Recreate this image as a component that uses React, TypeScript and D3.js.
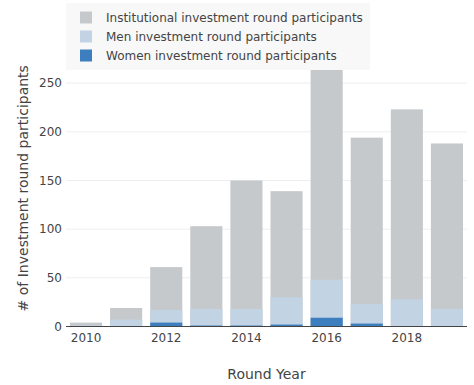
import React, { useEffect, useRef } from "react";
import * as d3 from "d3";

// values (overlaid bars, not stacked)
const years = [2010, 2011, 2012, 2013, 2014, 2015, 2016, 2017, 2018, 2019];
const institutional = [4, 19, 61, 103, 150, 139, 270, 194, 223, 188];
const men = [1, 7, 17, 18, 18, 30, 48, 23, 28, 18];
const women = [0, 0, 4, 1, 1, 2, 9, 3, 0, 0];
const seriesNames = [
  "Institutional investment round participants",
  "Men investment round participants",
  "Women investment round participants",
];
const seriesColors = ["#c5c9cc", "#c2d3e4", "#3d7ebf"];
const yTicks = [0, 50, 100, 150, 200, 250];
const xTicks = [2010, 2012, 2014, 2016, 2018];

const FONT = "Verdana, 'DejaVu Sans', sans-serif";

export default function App() {
  const ref = useRef<SVGSVGElement>(null);

  useEffect(() => {
    const svg = d3.select(ref.current);
    svg.selectAll("*").remove();

    const margin = { top: 50, right: 7, bottom: 58.5, left: 66 };
    const W = 474, H = 385;
    const w = W - margin.left - margin.right;
    const h = H - margin.top - margin.bottom;

    const x = d3.scaleLinear().domain([2009.5, 2019.5]).range([margin.left, margin.left + w]);
    const y = d3.scaleLinear().domain([0, 284]).range([margin.top + h, margin.top]);
    const bw = (x(2011) - x(2010)) * 0.8;

    // grid
    svg.append("g")
      .selectAll("line")
      .data(yTicks.filter(d => d > 0))
      .join("line")
      .attr("x1", margin.left).attr("x2", margin.left + w)
      .attr("y1", d => y(d)).attr("y2", d => y(d))
      .attr("stroke", "#eee").attr("stroke-width", 1);

    const all = [institutional, men, women];
    all.forEach((vals, i) => {
      svg.append("g")
        .selectAll("rect")
        .data(vals)
        .join("rect")
        .attr("x", (d, j) => x(years[j]) - bw / 2)
        .attr("width", bw)
        .attr("y", d => y(d))
        .attr("height", d => y(0) - y(d))
        .attr("fill", seriesColors[i]);
    });

    // zero line
    svg.append("line")
      .attr("x1", margin.left).attr("x2", margin.left + w)
      .attr("y1", y(0)).attr("y2", y(0))
      .attr("stroke", "#444").attr("stroke-width", 1);

    // y tick labels
    svg.append("g")
      .selectAll("text")
      .data(yTicks)
      .join("text")
      .attr("x", margin.left - 4)
      .attr("y", d => y(d))
      .attr("dy", "0.35em")
      .attr("text-anchor", "end")
      .attr("font-family", FONT).attr("font-size", 12).attr("fill", "#444")
      .text(d => d);

    // x tick labels
    svg.append("g")
      .selectAll("text")
      .data(xTicks)
      .join("text")
      .attr("x", d => x(d))
      .attr("y", y(0) + 15)
      .attr("text-anchor", "middle")
      .attr("font-family", FONT).attr("font-size", 12).attr("fill", "#444")
      .text(d => d);

    // axis titles
    svg.append("text")
      .attr("x", margin.left + w / 2)
      .attr("y", 379)
      .attr("text-anchor", "middle")
      .attr("font-family", FONT).attr("font-size", 14).attr("fill", "#444")
      .text("Round Year");

    svg.append("text")
      .attr("transform", `translate(28, ${margin.top + h / 2}) rotate(-90)`)
      .attr("text-anchor", "middle")
      .attr("font-family", FONT).attr("font-size", 14).attr("fill", "#444")
      .text("# of Investment round participants");

    // legend
    const lg = svg.append("g");
    lg.append("rect")
      .attr("x", 66).attr("y", 3).attr("width", 304).attr("height", 67)
      .attr("fill", "#f8f8f8");
    const items = lg.selectAll("g.item")
      .data(seriesNames)
      .join("g")
      .attr("class", "item")
      .attr("transform", (d, i) => `translate(0, ${17.5 + i * 19})`);
    items.append("rect")
      .attr("x", 80).attr("y", -6).attr("width", 12).attr("height", 12)
      .attr("fill", (d, i) => seriesColors[i]);
    items.append("text")
      .attr("x", 106).attr("dy", "0.35em")
      .attr("font-family", FONT).attr("font-size", 12).attr("fill", "#444")
      .text(d => d);
  }, []);

  return (
    <svg ref={ref} width={474} height={385}
      style={{ position: "absolute", left: 0, top: 0, background: "#fff" }} />
  );
}
